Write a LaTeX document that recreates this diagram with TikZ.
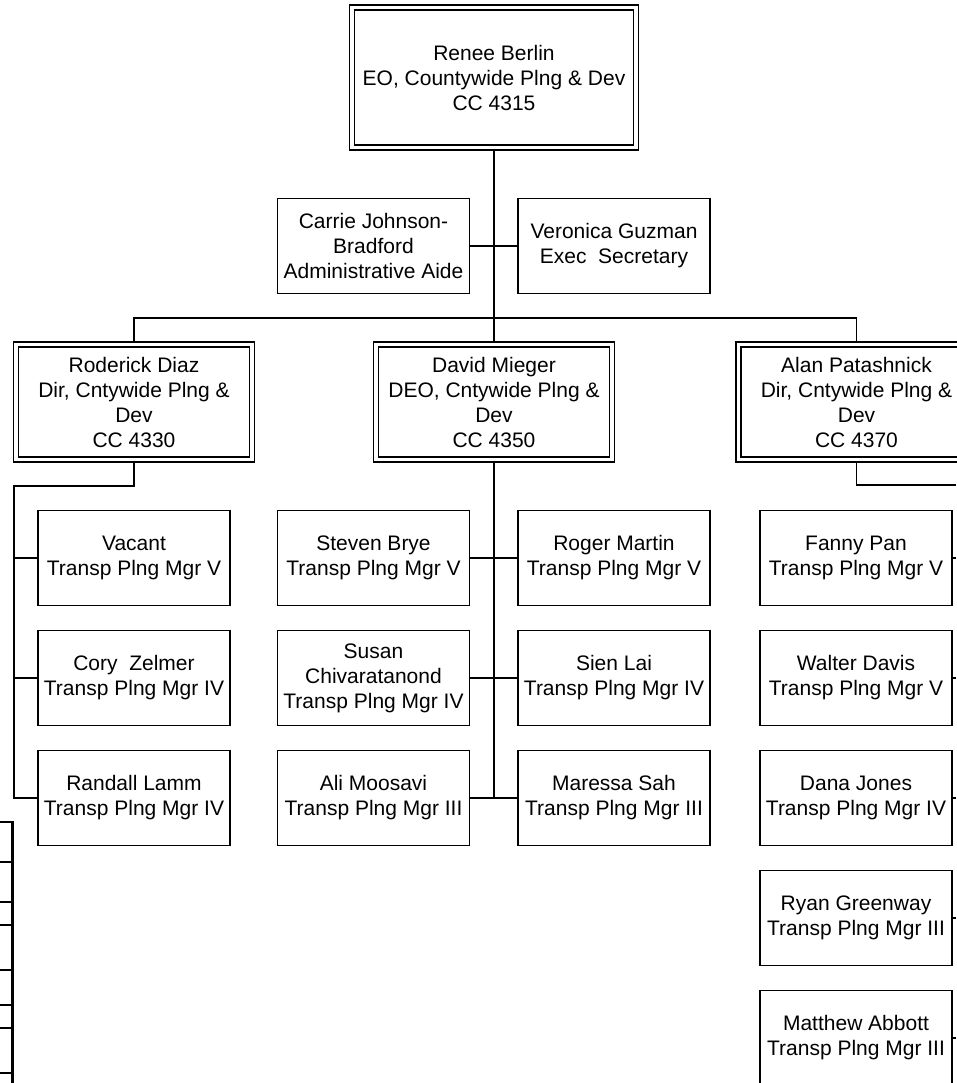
\documentclass[tikz,border=0pt]{standalone}
\usepackage{fontspec}
\setmainfont{Liberation Sans}
\tikzset{
  staff/.style={draw,line width=1.4pt,minimum width=192pt,minimum height=95pt,
    align=center,inner sep=1pt,font=\fontsize{21}{25}\selectfont},
  chief/.style={staff,double,double distance=3.6pt,outer sep=2.5pt,
    minimum width=236pt,minimum height=115pt},
  link/.style={line width=1.4pt}
}
\begin{document}
\begin{tikzpicture}[x=1pt,y=-1pt]
  \useasboundingbox (0,0) rectangle (956,1083);
  % top of the chart
  \node[chief,minimum width=284pt,minimum height=140pt] (renee) at (494,77.5)
    {Renee Berlin\\EO, Countywide Plng \& Dev\\CC 4315};
  \node[staff] (carrie) at (373.5,246) {Carrie Johnson-\\Bradford\\Administrative Aide};
  \node[staff] (veronica) at (614,246) {Veronica Guzman\\Exec~~Secretary};
  \coordinate (bus) at (494,318);
  \draw[link] (renee.south) -- (bus);
  \draw[link] (carrie.east) -- (veronica.west);
  % three divisions
  \node[chief] (roderick) at (134,402) {Roderick Diaz\\Dir, Cntywide Plng \&\\Dev\\CC 4330};
  \node[chief] (david) at (494,402) {David Mieger\\DEO, Cntywide Plng \&\\Dev\\CC 4350};
  \node[chief] (alan) at (856.5,402) {Alan Patashnick\\Dir, Cntywide Plng \&\\Dev\\CC 4370};
  \draw[link] (roderick.north) |- (bus) -| (alan.north);
  \draw[link] (bus) -- (david.north);
  % left column
  \node[staff] (vacant) at (134,558) {Vacant\\Transp Plng Mgr V};
  \node[staff] (cory) at (134,678) {Cory~~Zelmer\\Transp Plng Mgr IV};
  \node[staff] (randall) at (134,798) {Randall Lamm\\Transp Plng Mgr IV};
  \coordinate (lspine) at (14,486);
  \draw[link] (roderick.south) |- (lspine) |- (randall.west);
  \foreach \n in {vacant,cory}
    \draw[link] (\n.west) -- (\n.west -| lspine);
  % middle column
  \node[staff] (steven) at (373.5,558) {Steven Brye\\Transp Plng Mgr V};
  \node[staff] (susan) at (373.5,678) {Susan\\Chivaratanond\\Transp Plng Mgr IV};
  \node[staff] (ali) at (373.5,798) {Ali Moosavi\\Transp Plng Mgr III};
  \node[staff] (roger) at (614,558) {Roger Martin\\Transp Plng Mgr V};
  \node[staff] (sien) at (614,678) {Sien Lai\\Transp Plng Mgr IV};
  \node[staff] (maressa) at (614,798) {Maressa Sah\\Transp Plng Mgr III};
  \draw[link] (david.south) -- (david.south |- ali.east);
  \foreach \a/\b in {steven/roger,susan/sien,ali/maressa}
    \draw[link] (\a.east) -- (\b.west);
  % right column
  \node[staff] (fanny) at (856,558) {Fanny Pan\\Transp Plng Mgr V};
  \node[staff] (walter) at (856,678) {Walter Davis\\Transp Plng Mgr V};
  \node[staff] (dana) at (856,798) {Dana Jones\\Transp Plng Mgr IV};
  \node[staff] (ryan) at (856,918) {Ryan Greenway\\Transp Plng Mgr III};
  \node[staff] (matthew) at (856,1038) {Matthew Abbott\\Transp Plng Mgr III};
  \coordinate (rspine) at (956,485);
  \draw[link] (alan.south) |- (rspine);
  \foreach \n in {fanny,walter,dana,ryan,matthew}
    \draw[link] (\n.east) -- (\n.east -| rspine);
  % edge of the next page
  \draw[line width=3pt] (12.5,821) -- (12.5,1083);
  \foreach \y in {822,862,902,925,970,1005,1028,1073}
    \draw[link] (0,\y) -- (12.5,\y);
\end{tikzpicture}
\end{document}
